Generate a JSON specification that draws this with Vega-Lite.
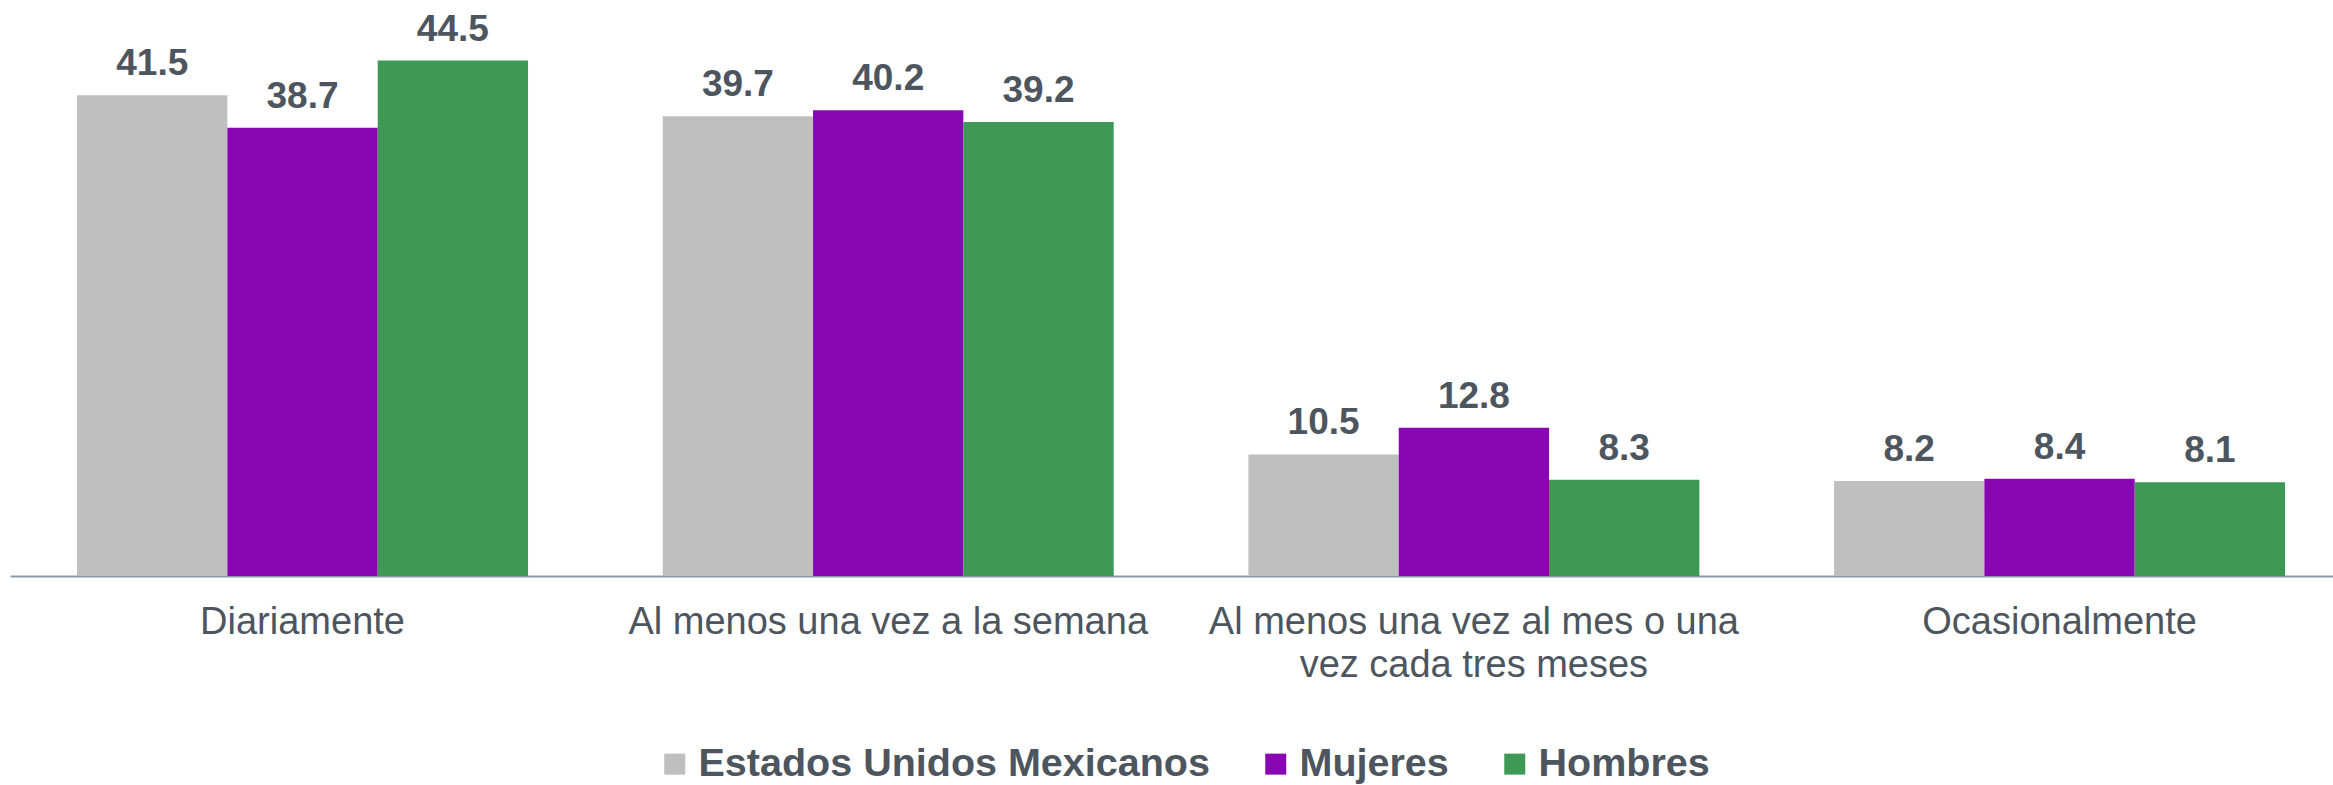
{
  "$schema": "https://vega.github.io/schema/vega-lite/v6.json",
  "autosize": {"type": "none"},
  "width": 2323,
  "height": 556,
  "padding": {"left": 10, "top": 20, "right": 0, "bottom": 209},
  "background": "white",
  "config": {
    "view": {"stroke": null},
    "font": "Liberation Sans"
  },
  "data": {
    "values": [
      {"cat": "Diariamente", "serie": "Estados Unidos Mexicanos", "valor": 41.5},
      {"cat": "Diariamente", "serie": "Mujeres", "valor": 38.7},
      {"cat": "Diariamente", "serie": "Hombres", "valor": 44.5},
      {"cat": "Al menos una vez a la semana", "serie": "Estados Unidos Mexicanos", "valor": 39.7},
      {"cat": "Al menos una vez a la semana", "serie": "Mujeres", "valor": 40.2},
      {"cat": "Al menos una vez a la semana", "serie": "Hombres", "valor": 39.2},
      {"cat": "Al menos una vez al mes o una vez cada tres meses", "serie": "Estados Unidos Mexicanos", "valor": 10.5},
      {"cat": "Al menos una vez al mes o una vez cada tres meses", "serie": "Mujeres", "valor": 12.8},
      {"cat": "Al menos una vez al mes o una vez cada tres meses", "serie": "Hombres", "valor": 8.3},
      {"cat": "Ocasionalmente", "serie": "Estados Unidos Mexicanos", "valor": 8.2},
      {"cat": "Ocasionalmente", "serie": "Mujeres", "valor": 8.4},
      {"cat": "Ocasionalmente", "serie": "Hombres", "valor": 8.1}
    ]
  },
  "encoding": {
    "x": {
      "field": "cat",
      "type": "nominal",
      "sort": null,
      "scale": {"paddingInner": 0.23, "paddingOuter": 0.0982, "align": 0.583},
      "axis": {
        "title": null,
        "labelAngle": 0,
        "ticks": false,
        "labelPadding": 27,
        "labelFontSize": 38,
        "labelColor": "#4d555e",
        "labelFont": "Liberation Sans",
        "labelLineHeight": 43,
        "labelBaseline": "top",
        "labelLimit": 1000,
        "domainColor": "#8c99a6",
        "domainWidth": 2,
        "grid": false,
        "labelExpr": "datum.value == 'Al menos una vez al mes o una vez cada tres meses' ? ['Al menos una vez al mes o una', 'vez cada tres meses'] : datum.value"
      }
    },
    "xOffset": {
      "field": "serie",
      "type": "nominal",
      "scale": {"domain": ["Estados Unidos Mexicanos", "Mujeres", "Hombres"], "paddingInner": 0, "paddingOuter": 0}
    },
    "y": {
      "field": "valor",
      "type": "quantitative",
      "scale": {"domain": [0, 48], "nice": false},
      "axis": null
    }
  },
  "layer": [
    {
      "mark": {"type": "bar"},
      "encoding": {
        "color": {
          "field": "serie",
          "type": "nominal",
          "scale": {
            "domain": ["Estados Unidos Mexicanos", "Mujeres", "Hombres"],
            "range": ["#bfbfbf", "#8907b2", "#3e9856"]
          },
          "legend": {
            "title": null,
            "orient": "none",
            "legendX": 645,
            "legendY": 724,
            "direction": "horizontal",
            "symbolType": "square",
            "symbolSize": 441,
            "symbolStrokeWidth": 0,
            "labelFontSize": 39.5,
            "labelFontWeight": "bold",
            "labelColor": "#4d555e",
            "labelFont": "Liberation Sans",
            "labelOffset": 4,
            "columnPadding": 46,
            "labelLimit": 1000
          }
        }
      }
    },
    {
      "mark": {"type": "text", "baseline": "alphabetic", "dy": -20, "fontSize": 37, "fontWeight": "bold", "color": "#4d555e", "font": "Liberation Sans"},
      "encoding": {
        "text": {"field": "valor", "type": "quantitative", "format": ".1f"}
      }
    }
  ]
}
